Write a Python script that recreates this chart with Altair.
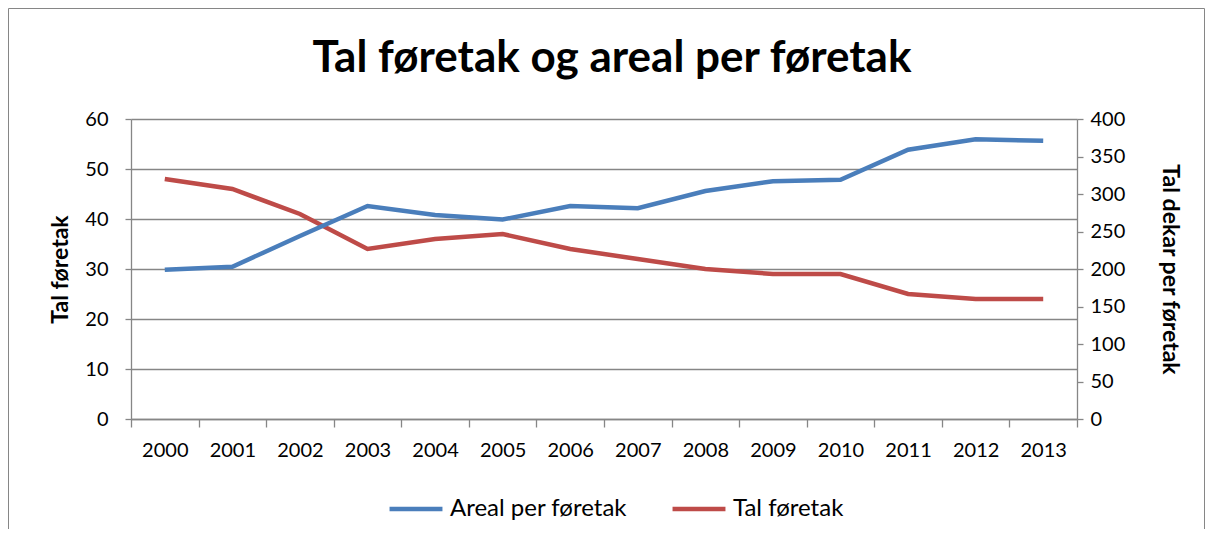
import altair as alt
import pandas as pd

years = [str(y) for y in range(2000, 2014)]
areal = [199, 203, 244, 284, 272, 266, 284, 281, 304, 317, 319, 359, 373, 371]
tal = [48, 46, 41, 34, 36, 37, 34, 32, 30, 29, 29, 25, 24, 24]
series = ["Areal per føretak", "Tal føretak"]
colors = ["#4A7EBB", "#BE4B48"]
left_ticks = [0, 10, 20, 30, 40, 50, 60]
right_ticks = [0, 50, 100, 150, 200, 250, 300, 350, 400]

df_tal = pd.DataFrame({"year": years, "value": tal, "series": series[1]})
df_areal = pd.DataFrame({"year": years, "value": areal, "series": series[0]})

FONT = "Lato"
GRID = "#868686"

x = alt.X(
    "year:N",
    bandPosition=0.5,
    scale=alt.Scale(type="band", paddingInner=0, paddingOuter=0),
    axis=alt.Axis(
        title=None, tickBand="extent", grid=False, labelAngle=0,
        labelFontSize=20, labelFont=FONT, labelColor="black",
        tickSize=8, labelPadding=13, domainColor=GRID, tickColor=GRID,
        domainWidth=1.3, tickWidth=1.3,
    ),
)

color = alt.Color(
    "series:N",
    scale=alt.Scale(domain=series, range=colors),
    legend=alt.Legend(
        title=None, orient="none", direction="horizontal",
        legendX=256, legendY=361,
        symbolType="stroke", symbolStrokeWidth=4.5, symbolSize=2800,
        labelFontSize=24, labelFont=FONT, labelColor="black", labelLimit=0,
        columnPadding=35, labelOffset=5,
    ),
)

common_axis = dict(
    labelFontSize=20, labelFont=FONT, labelColor="black",
    titleFontSize=23, titleFont=FONT, titleFontWeight="bold", titleColor="black",
    domainColor=GRID, tickColor=GRID, gridColor=GRID,
    domainWidth=1.3, tickWidth=1.3, gridWidth=1.3, tickSize=6,
)

red = alt.Chart(df_tal).mark_line(strokeWidth=4.5).encode(
    x=x,
    y=alt.Y(
        "value:Q",
        scale=alt.Scale(domain=[0, 60]),
        axis=alt.Axis(title="Tal føretak", values=left_ticks, orient="left",
                      labelPadding=17, titlePadding=12, **common_axis),
    ),
    color=color,
)

blue = alt.Chart(df_areal).mark_line(strokeWidth=4.5).encode(
    x=x,
    y=alt.Y(
        "value:Q",
        scale=alt.Scale(domain=[0, 400]),
        axis=alt.Axis(title="Tal dekar per føretak", values=right_ticks, orient="right",
                      labelPadding=7, titlePadding=33, **common_axis),
    ),
    color=color,
)

border = alt.Chart(pd.DataFrame({"a": [0]})).mark_rect(
    fillOpacity=0, stroke=GRID, strokeWidth=1
).encode(
    x=alt.value(-122.5), x2=alt.value(1073.5),
    y=alt.value(-110.5), y2=alt.value(415.5),
)

chart = alt.layer(border, red, blue).resolve_scale(y="independent").properties(
    width=946,
    height=300,
    autosize=alt.AutoSizeParams(type="none"),
    padding={"left": 123, "top": 111, "right": 128, "bottom": 110},
    title=alt.TitleParams(
        "Tal føretak og areal per føretak", fontSize=44, font=FONT,
        fontWeight="bold", frame="group", offset=0, anchor="middle",
        baseline="alphabetic", dx=8, dy=108, color="black",
    ),
).configure_view(stroke=None)

chart.save("out.html", embed_options={"renderer": "svg", "actions": False})
